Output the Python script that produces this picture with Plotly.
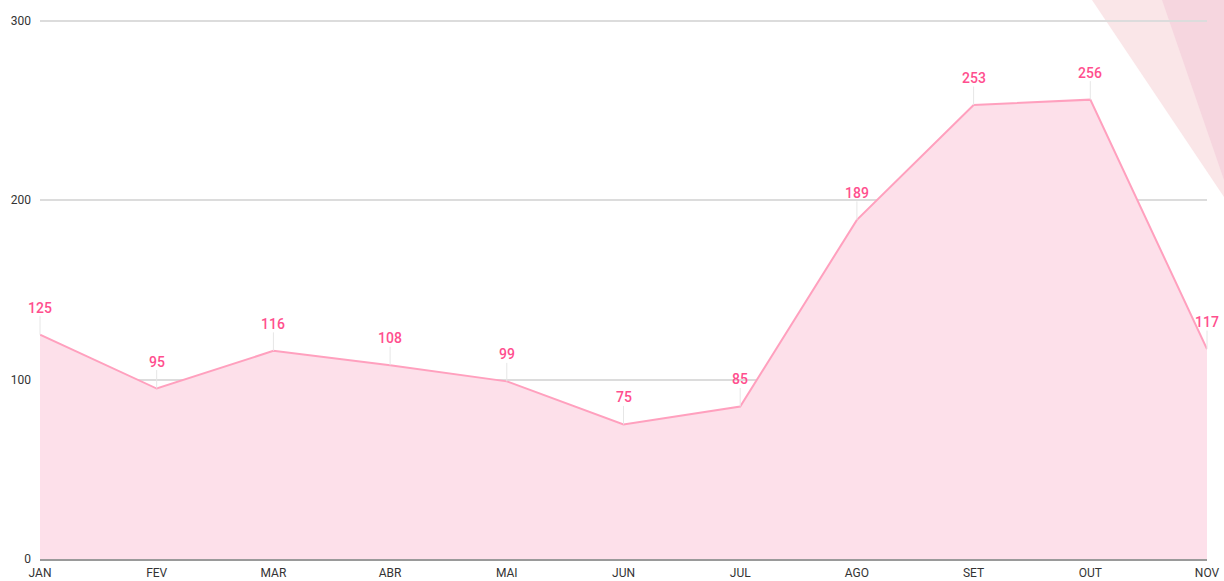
import plotly.graph_objects as go

months = ["JAN", "FEV", "MAR", "ABR", "MAI", "JUN", "JUL", "AGO", "SET", "OUT", "NOV"]
values = [125, 95, 116, 108, 99, 75, 85, 189, 253, 256, 117]
y_ticks = [0, 100, 200, 300]

W, H = 1224, 581
ml, mr, mt, mb = 40, 17, 18, 22
pw = W - ml - mr
ph = H - mt - mb

def px_x(px):
    return (px - ml) / pw

def px_y(py):
    return (H - mb - py) / ph

fig = go.Figure()
fig.add_trace(go.Scatter(
    x=list(range(len(months))), y=values, mode="lines",
    line=dict(color="#ffa0be", width=2),
    fill="tozeroy", fillcolor="#fde0ea",
    hoverinfo="skip", showlegend=False,
))

for i, v in enumerate(values):
    fig.add_annotation(
        x=i, y=v, text=str(v), showarrow=True, arrowhead=0, arrowwidth=1,
        arrowcolor="#e6e6e6", ax=0, ay=-27, standoff=0,
        font=dict(family="Roboto, sans-serif", size=14, color="#ff4f8e", weight=500),
        borderpad=0,
    )

# decorative wedges top-right
fig.add_shape(type="path", xref="paper", yref="paper",
              path=f"M {px_x(1092)} {px_y(0)} L {px_x(1224)} {px_y(197)} L {px_x(1224)} {px_y(0)} Z",
              fillcolor="#fae6e8", line=dict(width=0), layer="below")
fig.add_shape(type="path", xref="paper", yref="paper",
              path=f"M {px_x(1162)} {px_y(0)} L {px_x(1224)} {px_y(180)} L {px_x(1224)} {px_y(0)} Z",
              fillcolor="#f6d6df", line=dict(width=0), layer="below")

fig.update_layout(
    template="none",
    width=W, height=H, autosize=False,
    margin=dict(l=ml, r=mr, t=mt, b=mb, pad=0, autoexpand=False),
    paper_bgcolor="white", plot_bgcolor="rgba(0,0,0,0)",
    font=dict(family="Roboto, sans-serif", size=12, color="#333"),
    showlegend=False,
    xaxis=dict(
        range=[0, len(months) - 1], tickmode="array",
        tickvals=list(range(len(months))), ticktext=months,
        showgrid=False, zeroline=False, showline=True, automargin=False,
        linecolor="#9a9a9a", linewidth=2, ticks="", ticklabelstandoff=2,
        tickfont=dict(size=12, color="#333"),
    ),
    yaxis=dict(
        range=[0, 301.5], tickmode="array", tickvals=y_ticks,
        showgrid=True, gridcolor="#dcdcdc", gridwidth=1.5, automargin=False,
        zeroline=False, showline=False, ticks="",
        ticklabelstandoff=8, tickfont=dict(size=12, color="#333"),
    ),
)

fig.write_html(
    "out.html",
    config={"displayModeBar": False},
    post_script="document.body.style.margin='0';document.body.style.overflow='hidden';",
)
